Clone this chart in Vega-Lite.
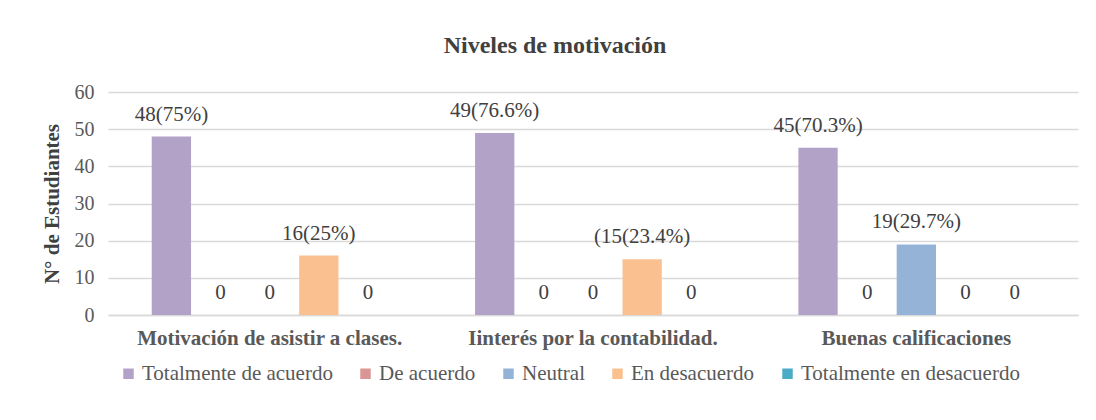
{
  "$schema": "https://vega.github.io/schema/vega-lite/v6.json",
  "width": 970,
  "height": 223,
  "autosize": {"type": "none"},
  "padding": {"left": 108, "top": 92, "right": 18, "bottom": 105},
  "background": "white",
  "title": {
    "text": "Niveles de motivación",
    "font": "Liberation Serif",
    "fontSize": 24,
    "fontWeight": "bold",
    "color": "#404040",
    "anchor": "middle",
    "offset": 24,
    "dx": -38
  },
  "data": {
    "values": [
      {"cat": "Motivación de asistir a clases.", "serie": "Totalmente de acuerdo", "n": 48, "label": "48(75%)"},
      {"cat": "Motivación de asistir a clases.", "serie": "De acuerdo", "n": 0, "label": "0"},
      {"cat": "Motivación de asistir a clases.", "serie": "Neutral", "n": 0, "label": "0"},
      {"cat": "Motivación de asistir a clases.", "serie": "En desacuerdo", "n": 16, "label": "16(25%)"},
      {"cat": "Motivación de asistir a clases.", "serie": "Totalmente en desacuerdo", "n": 0, "label": "0"},
      {"cat": "Iinterés por la contabilidad.", "serie": "Totalmente de acuerdo", "n": 49, "label": "49(76.6%)"},
      {"cat": "Iinterés por la contabilidad.", "serie": "De acuerdo", "n": 0, "label": "0"},
      {"cat": "Iinterés por la contabilidad.", "serie": "Neutral", "n": 0, "label": "0"},
      {"cat": "Iinterés por la contabilidad.", "serie": "En desacuerdo", "n": 15, "label": "(15(23.4%)"},
      {"cat": "Iinterés por la contabilidad.", "serie": "Totalmente en desacuerdo", "n": 0, "label": "0"},
      {"cat": "Buenas calificaciones", "serie": "Totalmente de acuerdo", "n": 45, "label": "45(70.3%)"},
      {"cat": "Buenas calificaciones", "serie": "De acuerdo", "n": 0, "label": "0"},
      {"cat": "Buenas calificaciones", "serie": "Neutral", "n": 19, "label": "19(29.7%)"},
      {"cat": "Buenas calificaciones", "serie": "En desacuerdo", "n": 0, "label": "0"},
      {"cat": "Buenas calificaciones", "serie": "Totalmente en desacuerdo", "n": 0, "label": "0"}
    ]
  },
  "encoding": {
    "x": {
      "field": "cat",
      "type": "nominal",
      "sort": null,
      "scale": {"paddingInner": 0.24, "paddingOuter": 0.12},
      "axis": {
        "title": null,
        "labelAngle": 0,
        "labelLimit": 0,
        "labelFont": "Liberation Serif",
        "labelFontSize": 21,
        "labelFontWeight": "bold",
        "labelColor": "#595959",
        "labelPadding": 12,
        "ticks": false,
        "domainColor": "#d9d9d9",
        "domainWidth": 1.3
      }
    },
    "xOffset": {
      "field": "serie",
      "type": "nominal",
      "sort": ["Totalmente de acuerdo", "De acuerdo", "Neutral", "En desacuerdo", "Totalmente en desacuerdo"],
      "scale": {"paddingInner": 0.2, "paddingOuter": 0.1}
    },
    "y": {
      "field": "n",
      "type": "quantitative",
      "scale": {"domain": [0, 60]},
      "axis": {
        "title": "N° de Estudiantes",
        "titleFont": "Liberation Serif",
        "titleFontSize": 21,
        "titleFontWeight": "bold",
        "titleColor": "#404040",
        "titlePadding": 12,
        "values": [0, 10, 20, 30, 40, 50, 60],
        "labelFont": "Liberation Serif",
        "labelFontSize": 20,
        "labelColor": "#595959",
        "labelPadding": 14,
        "ticks": false,
        "domain": false,
        "gridColor": "#d9d9d9",
        "gridWidth": 1.3
      }
    }
  },
  "layer": [
    {
      "mark": {"type": "bar"},
      "encoding": {
        "color": {
          "field": "serie",
          "type": "nominal",
          "sort": ["Totalmente de acuerdo", "De acuerdo", "Neutral", "En desacuerdo", "Totalmente en desacuerdo"],
          "scale": {
            "domain": ["Totalmente de acuerdo", "De acuerdo", "Neutral", "En desacuerdo", "Totalmente en desacuerdo"],
            "range": ["#B3A2C7", "#D99694", "#95B3D7", "#FAC090", "#4BACC6"]
          },
          "legend": {
            "title": null,
            "orient": "none",
            "legendX": 10,
            "legendY": 271,
            "direction": "horizontal",
            "symbolType": "square",
            "symbolSize": 110,
            "symbolStrokeWidth": 0,
            "labelFont": "Liberation Serif",
            "labelFontSize": 21,
            "labelColor": "#595959",
            "labelLimit": 0,
            "columnPadding": 22,
            "labelOffset": 3,
            "symbolOffset": 0
          }
        }
      }
    },
    {
      "mark": {
        "type": "text",
        "baseline": "bottom",
        "dy": -12,
        "font": "Liberation Serif",
        "fontSize": 21,
        "color": "#404040"
      },
      "encoding": {
        "text": {"field": "label"}
      }
    }
  ],
  "config": {"font": "Liberation Serif", "view": {"stroke": null}}
}
